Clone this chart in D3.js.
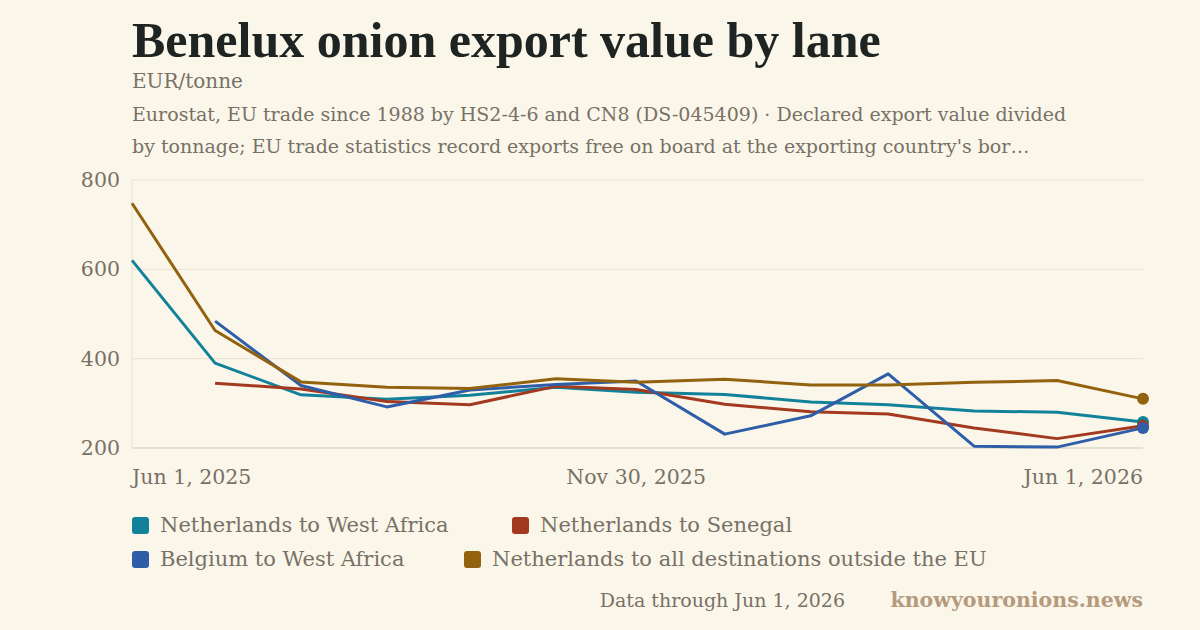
<!DOCTYPE html>
<html><head><meta charset="utf-8">
<script src="https://cdn.jsdelivr.net/npm/d3@7"></script>
<style>
body{margin:0;background:#fbf6ea;}
svg{display:block;font-family:"DejaVu Serif",serif;}
</style></head>
<body><svg></svg>
<script>
const months = ["2025-06-01","2025-07-01","2025-08-01","2025-09-01","2025-10-01","2025-11-01","2025-11-30","2026-01-01","2026-02-01","2026-03-01","2026-04-01","2026-05-01","2026-06-01"];
const nlWestAfrica = [620, 390, 319, 309, 318, 336, 325, 320, 303, 297, 283, 280, 258];
const nlSenegal = [null, 345, 332, 304, 297, 338, 331, 298, 281, 276, 245, 221, 250];
const beWestAfrica = [null, 484, 340, 292, 330, 342, 350, 231, 272, 366, 204, 202, 245];
const nlOutsideEU = [748, 463, 348, 336, 333, 355, 347, 354, 341, 341, 347, 351, 310];
const seriesNames = ["Netherlands to West Africa","Netherlands to Senegal","Belgium to West Africa","Netherlands to all destinations outside the EU"];
const colors = ["#11829a","#a33a1f","#2e5ea8","#93620f"];
const yTicks = [200,400,600,800];
const xTickLabels = ["Jun 1, 2025","Nov 30, 2025","Jun 1, 2026"];

const width = 1200, height = 630;
const svg = d3.select("svg").attr("width", width).attr("height", height);
const parse = d3.timeParse("%Y-%m-%d");
const dates = months.map(parse);
const allSeries = [nlWestAfrica, nlSenegal, beWestAfrica, nlOutsideEU];

const x = d3.scaleTime().domain([dates[0], dates[dates.length-1]]).range([132, 1143]);
const y = d3.scaleLinear().domain([200, 800]).range([448, 180]);

// title block
svg.append("text").attr("x", 132).attr("y", 57).attr("font-weight", "bold")
  .attr("fill", "#1e2422").style("font-family", "'Liberation Serif',serif").attr("font-size", 50)
  .text("Benelux onion export value by lane");
svg.append("text").attr("x", 132).attr("y", 88).attr("font-size", 20).attr("fill", "#777166").text("EUR/tonne");
svg.append("text").attr("x", 132).attr("y", 121).attr("font-size", 19).attr("fill", "#777166")
  .text("Eurostat, EU trade since 1988 by HS2-4-6 and CN8 (DS-045409) · Declared export value divided");
svg.append("text").attr("x", 132).attr("y", 153).attr("font-size", 19).attr("fill", "#777166")
  .text("by tonnage; EU trade statistics record exports free on board at the exporting country's bor…");

// grid
svg.append("g").selectAll("line").data(yTicks).enter().append("line")
  .attr("x1", 132).attr("x2", 1143).attr("y1", d => y(d)).attr("y2", d => y(d))
  .attr("stroke", d => d === 200 ? "#cfc7b2" : "#e8e1cf").attr("stroke-width", 1);
svg.append("line").attr("x1", 132).attr("x2", 132).attr("y1", 180).attr("y2", 448).attr("stroke", "#e8e1cf");
svg.append("g").selectAll("text").data(yTicks).enter().append("text")
  .attr("x", 120).attr("y", d => y(d) + 7).attr("text-anchor", "end")
  .attr("font-size", 20.5).attr("fill", "#777166").text(d => d);

const xTickDates = [dates[0], dates[6], dates[12]];
svg.append("g").selectAll("text").data(xTickDates).enter().append("text")
  .attr("x", d => x(d)).attr("y", 484)
  .attr("text-anchor", (d, i) => i === 0 ? "start" : i === 2 ? "end" : "middle")
  .attr("font-size", 20.5).attr("fill", "#777166").text((d, i) => xTickLabels[i]);

// lines
const line = d3.line().defined(d => d.v != null).x(d => x(d.d)).y(d => y(d.v));
allSeries.forEach((s, i) => {
  const pts = s.map((v, j) => ({d: dates[j], v: v}));
  svg.append("path").datum(pts).attr("d", line).attr("fill", "none")
    .attr("stroke", colors[i]).attr("stroke-width", 3).attr("stroke-linejoin", "round");
});
allSeries.forEach((s, i) => {
  svg.append("circle").attr("cx", x(dates[12])).attr("cy", y(s[12])).attr("r", 6).attr("fill", colors[i]);
});

// legend
const legendPos = [[132, 525], [512, 525], [132, 559], [464, 559]];
seriesNames.forEach((n, i) => {
  const g = svg.append("g").attr("transform", `translate(${legendPos[i][0]},${legendPos[i][1]})`);
  g.append("rect").attr("x", 0).attr("y", -8).attr("width", 17).attr("height", 17).attr("rx", 3).attr("fill", colors[i]);
  g.append("text").attr("x", 28).attr("y", 7).attr("font-size", 21).attr("fill", "#777166").text(n);
});

svg.append("text").attr("x", 845).attr("y", 607).attr("text-anchor", "end").attr("font-size", 19)
  .attr("fill", "#777166").text("Data through Jun 1, 2026");
svg.append("text").attr("x", 1143).attr("y", 607).attr("text-anchor", "end").attr("font-size", 20.5)
  .attr("font-weight", "bold").attr("fill", "#b59a7d").text("knowyouronions.news");
</script></body></html>
